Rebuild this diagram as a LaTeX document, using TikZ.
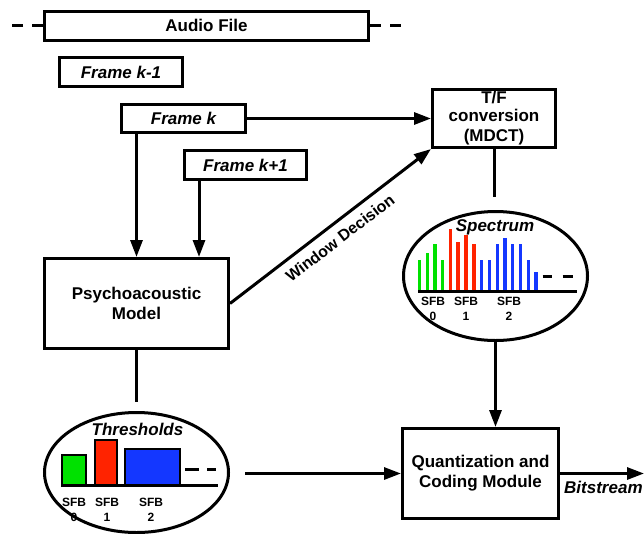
\documentclass[tikz,border=0pt]{standalone}
\usepackage{fontspec}
\setmainfont{Liberation Sans}
\usetikzlibrary{arrows.meta,shapes.geometric}
\definecolor{spgreen}{RGB}{0,225,0}
\definecolor{spred}{RGB}{255,35,0}
\definecolor{spblue}{RGB}{20,55,255}
\begin{document}
\begin{tikzpicture}[x=1pt,y=-1pt,
  box/.style={draw,line width=3pt,inner sep=0pt,align=center,font=\fontsize{17}{20}\selectfont\bfseries},
  fbox/.style={box,font=\fontsize{17}{20}\selectfont\bfseries\itshape},
  oval/.style={draw,ellipse,line width=3pt,inner sep=0pt},
  conn/.style={line width=3pt},
  arr/.style={conn,-{Triangle[length=17pt,width=12pt]}},
  lbl/.style={inner sep=0pt,font=\fontsize{17}{20}\selectfont\bfseries\itshape},
  sfb/.style={inner sep=0pt,align=center,font=\fontsize{12}{15}\selectfont\bfseries},
  sbar/.style={line width=3.4pt},
  tbar/.style={draw=black,line width=2pt},
  axis/.style={line width=3pt}]
\useasboundingbox (0,0) rectangle (644,533);

% top boxes
\node[box,minimum width=324pt,minimum height=29pt] (audio) at (206.5,25.5) {Audio File};
\coordinate (aleft) at (12,25.5);
\coordinate (aright) at (402,25.5);
\draw[conn,dash pattern=on 11pt off 9pt] (audio.west) -- (aleft);
\draw[conn,dash pattern=on 11pt off 9pt] (audio.east) -- (aright);

\node[fbox,minimum width=123pt,minimum height=29pt] (fk1) at (121,72) {Frame k-1};
\node[fbox,minimum width=124pt,minimum height=28pt] (fk) at (183.5,118.5) {Frame k};
\node[fbox,minimum width=122pt,minimum height=29pt] (fkp) at (245.5,165) {Frame k+1};

\node[box,minimum width=123pt,minimum height=58pt] (tf) at (494,118.5) {\raisebox{-2pt}{T/F}\\conversion\\(MDCT)};
\node[box,minimum width=184pt,minimum height=90pt] (psycho) at (136.5,303.5) {Psychoacoustic\\Model};
\node[box,minimum width=156pt,minimum height=90pt] (quant) at (480.5,473.5) {Quantization and\\Coding Module};

% ellipses
\node[oval,minimum width=184pt,minimum height=129pt] (spec) at (495.5,276) {};
\node[oval,minimum width=184pt,minimum height=120pt] (thr) at (136.5,472.5) {};

% connectors
\draw[arr] (fk.east) -- (tf.west);
\draw[arr] (fk.south -| psycho.north) -- (psycho.north);
\coordinate (kp) at ([xshift=16pt]fkp.south west);
\draw[arr] (kp) -- (kp |- psycho.north);
\draw[arr] (psycho.east) -- (tf.south west);
\node[inner sep=0pt,rotate=37.5,font=\fontsize{16}{19}\selectfont\bfseries] (wd) at (340,238) {Window Decision};
\coordinate (tfend) at (494,197);
\draw[conn] (tf.south) -- (tfend);
\draw[arr] (spec.south) -- (spec.south |- quant.north);
\coordinate (pend) at (136.5,402);
\draw[conn] (psycho.south) -- (pend);
\coordinate (tstart) at (245,473.5);
\draw[arr] (tstart) -- (quant.west);
\coordinate (bend) at (644,473.5);
\draw[arr] (quant.east) -- (bend);
\node[lbl,anchor=base west] (bits) at (564,493) {Bitstream};

% spectrum content
\node[lbl,anchor=base] (spect) at (495,231) {Spectrum};
\foreach \x/\t in {419.3/260,427.3/253.3,435/244.3,442.7/260}
  \draw[sbar,spgreen] (\x,291.7) -- (\x,\t);
\foreach \x/\t in {450.3/229.3,458/242,466/235,474/244.3}
  \draw[sbar,spred] (\x,291.7) -- (\x,\t);
\foreach \x/\t in {481.3/260,489.3/260,497.3/244.3,505/237.7,512.7/244.3,520.7/244.3,528.7/260,536/271.7}
  \draw[sbar,spblue] (\x,291.7) -- (\x,\t);
\draw[axis] (418,291.7) -- (577,291.7);
\draw[axis] (542.7,276.7) -- (551.7,276.7);
\draw[axis] (562.7,276.7) -- (573.3,276.7);
\node[sfb] (s0) at (433,309.2) {SFB\\0};
\node[sfb] (s1) at (466,309.2) {SFB\\1};
\node[sfb] (s2) at (509,309.2) {SFB\\2};

% thresholds content
\node[lbl,anchor=base] (thrt) at (137.5,435) {Thresholds};
\filldraw[tbar,fill=spgreen] (62,485) rectangle (86,455);
\filldraw[tbar,fill=spred] (95,485) rectangle (117,440);
\filldraw[tbar,fill=spblue] (125,485) rectangle (180,449);
\draw[axis] (61,485) -- (218,485);
\draw[axis] (185,469) -- (199,469);
\draw[axis] (207,469) -- (216,469);
\node[sfb] (t0) at (74,509.5) {SFB\\0};
\node[sfb] (t1) at (107,509.5) {SFB\\1};
\node[sfb] (t2) at (151,509.5) {SFB\\2};
\end{tikzpicture}
\end{document}
